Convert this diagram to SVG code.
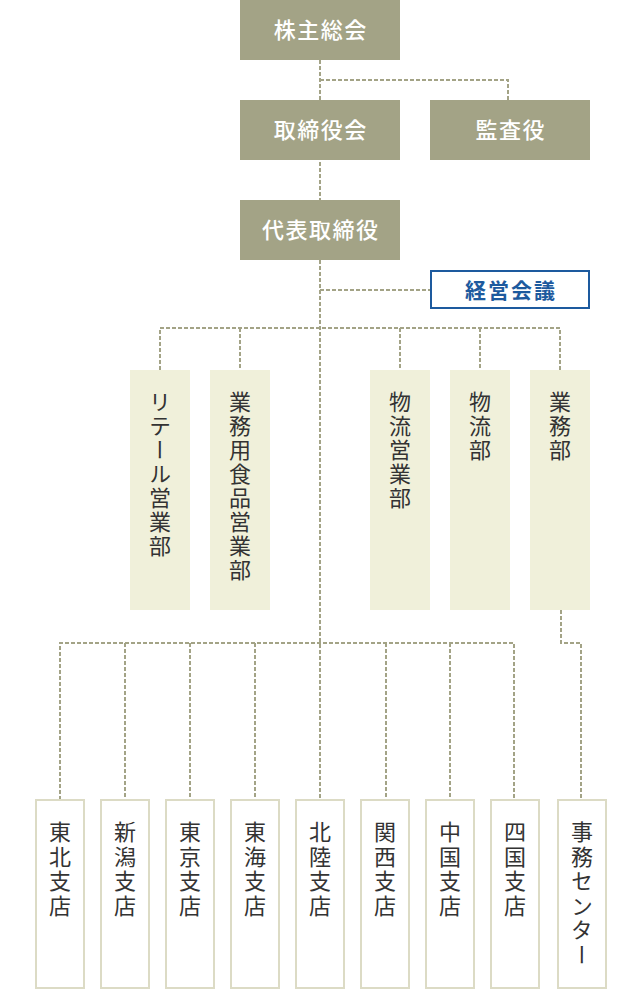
<svg xmlns="http://www.w3.org/2000/svg" width="640" height="989" viewBox="0 0 640 989">
<style>
.top rect{fill:#a3a386}
.top text{fill:#fff;font-family:"Noto Sans CJK JP",sans-serif;font-size:22px;font-weight:500;letter-spacing:1.5px;text-anchor:middle}
.dept rect{fill:#f0f0da}
.br rect{fill:#fff;stroke:#dcdbc5;stroke-width:2}
.v{fill:#333;font-family:"Noto Sans CJK JP",sans-serif;font-size:22px;writing-mode:vertical-rl;text-orientation:upright;letter-spacing:2px}
.br .v{letter-spacing:2.5px}
.c path{fill:none;stroke:#a3a386;stroke-width:2;stroke-dasharray:4 2}
</style>
<g class="c" id="connectors">
<path d="M320 60V200"/>
<path d="M320 80H508V100"/>
<path d="M320 260V800"/>
<path d="M320 290H430"/>
<path d="M160 370V328H560V370"/>
<path d="M240 328V370"/>
<path d="M400 328V370"/>
<path d="M480 328V370"/>
<path d="M60 800V643H514V800"/>
<path d="M125 643V800"/>
<path d="M190 643V800"/>
<path d="M255 643V800"/>
<path d="M386 643V800"/>
<path d="M450 643V800"/>
<path d="M561 610V643H581V800"/>
</g>
<g class="top" id="kabunushi"><rect x="240" y="0" width="160" height="60"/><text x="320.75" y="38">株主総会</text></g>
<g class="top" id="torishimariyakukai"><rect x="240" y="100" width="160" height="60"/><text x="320.75" y="138">取締役会</text></g>
<g class="top" id="kansayaku"><rect x="430" y="100" width="160" height="60"/><text x="510.75" y="138">監査役</text></g>
<g class="top" id="daihyo"><rect x="240" y="200" width="160" height="60"/><text x="320.75" y="238">代表取締役</text></g>
<g id="keiei"><rect x="431" y="271" width="158" height="37" fill="#fff" stroke="#1d5a9e" stroke-width="2"/><text x="511" y="297.5" fill="#1d5a9e" font-family="'Noto Sans CJK JP',sans-serif" font-size="21" font-weight="700" letter-spacing="2" text-anchor="middle">経営会議</text></g>
<g class="dept" id="retail"><rect x="130" y="370" width="60" height="240"/><text class="v" x="160" y="391">リテール営業部</text></g>
<g class="dept" id="gyomuyo"><rect x="210" y="370" width="60" height="240"/><text class="v" x="240" y="391">業務用食品営業部</text></g>
<g class="dept" id="butsuryueigyo"><rect x="370" y="370" width="60" height="240"/><text class="v" x="400" y="391">物流営業部</text></g>
<g class="dept" id="butsuryu"><rect x="450" y="370" width="60" height="240"/><text class="v" x="480" y="391">物流部</text></g>
<g class="dept" id="gyomu"><rect x="530" y="370" width="60" height="240"/><text class="v" x="560" y="391">業務部</text></g>
<g class="br" id="tohoku"><rect x="36" y="800" width="48" height="188"/><text class="v" x="60" y="821">東北支店</text></g>
<g class="br" id="niigata"><rect x="101" y="800" width="48" height="188"/><text class="v" x="125" y="821">新潟支店</text></g>
<g class="br" id="tokyo"><rect x="166" y="800" width="48" height="188"/><text class="v" x="190" y="821">東京支店</text></g>
<g class="br" id="tokai"><rect x="231" y="800" width="48" height="188"/><text class="v" x="255" y="821">東海支店</text></g>
<g class="br" id="hokuriku"><rect x="296" y="800" width="48" height="188"/><text class="v" x="320" y="821">北陸支店</text></g>
<g class="br" id="kansai"><rect x="361" y="800" width="48" height="188"/><text class="v" x="385" y="821">関西支店</text></g>
<g class="br" id="chugoku"><rect x="426" y="800" width="48" height="188"/><text class="v" x="450" y="821">中国支店</text></g>
<g class="br" id="shikoku"><rect x="491" y="800" width="48" height="188"/><text class="v" x="515" y="821">四国支店</text></g>
<g class="br" id="jimu"><rect x="558" y="800" width="48" height="188"/><text class="v" x="582" y="821">事務センター</text></g>
</svg>
